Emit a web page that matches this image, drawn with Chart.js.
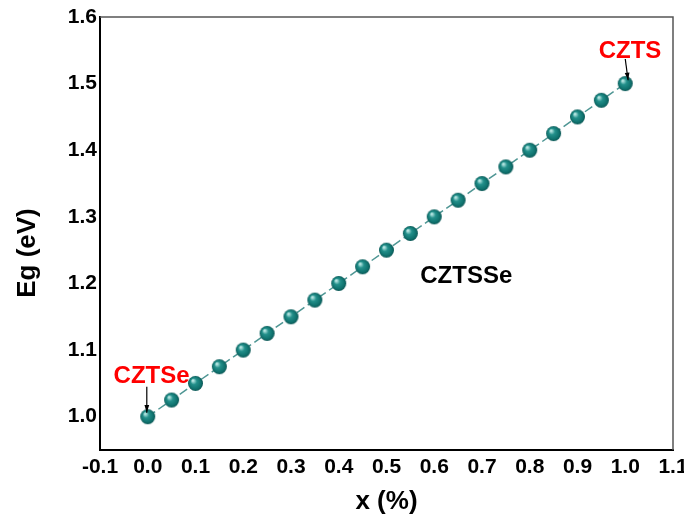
<!DOCTYPE html>
<html>
<head>
<meta charset="utf-8">
<script src="https://cdn.jsdelivr.net/npm/chart.js@4/dist/chart.umd.min.js"></script>
<style>
  html, body { margin: 0; padding: 0; background: #fff; }
  #wrap { width: 684px; height: 517px; }
</style>
</head>
<body>
<div id="wrap"><canvas id="egChart" width="684" height="517"></canvas></div>
<script>
// composition x and band gap values
const xValues = [0.00, 0.05, 0.10, 0.15, 0.20, 0.25, 0.30, 0.35, 0.40, 0.45, 0.50,
                 0.55, 0.60, 0.65, 0.70, 0.75, 0.80, 0.85, 0.90, 0.95, 1.00];
const egValues = [1.000, 1.025, 1.050, 1.075, 1.100, 1.125, 1.150, 1.175, 1.200, 1.225, 1.250,
                  1.275, 1.300, 1.325, 1.350, 1.375, 1.400, 1.425, 1.450, 1.475, 1.500];
const xTicks = [-0.1, 0.0, 0.1, 0.2, 0.3, 0.4, 0.5, 0.6, 0.7, 0.8, 0.9, 1.0, 1.1];
const yTicks = [1.0, 1.1, 1.2, 1.3, 1.4, 1.5, 1.6];

const FONT = '"Liberation Sans", Arial, sans-serif';

// labels and arrows in data coordinates
const notes = [
  { text: 'CZTSe', x: 0.008, y: 1.060, color: '#ff0000', size: 24 },
  { text: 'CZTS', x: 1.010, y: 1.549, color: '#ff0000', size: 24 },
  { text: 'CZTSSe', x: 0.667, y: 1.210, color: '#000000', size: 24 }
];
const arrows = [
  { from: [-0.002, 1.045], to: [-0.002, 1.006] },
  { from: [1.000, 1.537], to: [1.006, 1.505] }
];

function makeBall(r) {
  const c = document.createElement('canvas');
  c.width = c.height = r * 2 + 2;
  const g = c.getContext('2d');
  const cx = r + 1, cy = r + 1;
  const grad = g.createRadialGradient(cx - r * 0.35, cy - r * 0.4, r * 0.1, cx, cy, r);
  grad.addColorStop(0, '#b6e6e2');
  grad.addColorStop(0.35, '#23908b');
  grad.addColorStop(0.8, '#0f716d');
  grad.addColorStop(1, '#0a5553');
  g.fillStyle = grad;
  g.beginPath();
  g.arc(cx, cy, r, 0, Math.PI * 2);
  g.fill();
  return c;
}

const frame = {
  id: 'frame',
  afterDatasetsDraw(chart) {
    const { ctx, chartArea: a, scales: { x, y } } = chart;
    ctx.save();
    ctx.strokeStyle = '#555';
    ctx.lineWidth = 1.5;
    ctx.beginPath();
    ctx.moveTo(a.left, a.top);
    ctx.lineTo(a.right, a.top);
    ctx.lineTo(a.right, a.bottom);
    ctx.stroke();

    // arrows
    ctx.strokeStyle = '#000';
    ctx.fillStyle = '#000';
    ctx.lineWidth = 1.2;
    arrows.forEach(ar => {
      const x1 = x.getPixelForValue(ar.from[0]), y1 = y.getPixelForValue(ar.from[1]);
      const x2 = x.getPixelForValue(ar.to[0]), y2 = y.getPixelForValue(ar.to[1]);
      const ang = Math.atan2(y2 - y1, x2 - x1);
      ctx.beginPath();
      ctx.moveTo(x1, y1);
      ctx.lineTo(x2, y2);
      ctx.stroke();
      ctx.beginPath();
      ctx.moveTo(x2, y2);
      ctx.lineTo(x2 - 8 * Math.cos(ang - 0.3), y2 - 8 * Math.sin(ang - 0.3));
      ctx.lineTo(x2 - 8 * Math.cos(ang + 0.3), y2 - 8 * Math.sin(ang + 0.3));
      ctx.closePath();
      ctx.fill();
    });

    ctx.textAlign = 'center';
    ctx.textBaseline = 'middle';
    notes.forEach(n => {
      ctx.font = `bold ${n.size}px ${FONT}`;
      ctx.fillStyle = n.color;
      ctx.fillText(n.text, x.getPixelForValue(n.x), y.getPixelForValue(n.y));
    });

    // y axis title
    ctx.translate(28, 253);
    ctx.rotate(-Math.PI / 2);
    ctx.font = `bold 26px ${FONT}`;
    ctx.fillStyle = '#000';
    ctx.fillText('Eg (eV)', 0, 0);
    ctx.restore();
  }
};

new Chart(document.getElementById('egChart'), {
  type: 'line',
  data: {
    labels: xValues,
    datasets: [{
      data: xValues.map((v, i) => ({ x: v, y: egValues[i] })),
      borderColor: '#4f9694',
      borderWidth: 1.5,
      borderDash: [9, 4],
      pointStyle: makeBall(7.5),
      pointRadius: 7.5,
      pointHoverRadius: 7.5,
      fill: false,
      clip: false
    }]
  },
  options: {
    responsive: false,
    animation: false,
    events: [],
    layout: { padding: { top: 17, right: 11, left: 0, bottom: 0 } },
    plugins: { legend: { display: false }, tooltip: { enabled: false } },
    scales: {
      x: {
        type: 'linear',
        min: -0.1,
        max: 1.1,
        grid: { display: false, drawTicks: false },
        border: { color: '#000', width: 2 },
        afterBuildTicks: s => { s.ticks = xTicks.map(v => ({ value: v })); },
        afterFit: s => { s.height = 67; s.paddingLeft = 0; s.paddingRight = 0; },
        ticks: {
          color: '#000',
          padding: 5,
          font: { family: FONT, size: 21, weight: 'bold' },
          callback: v => v.toFixed(1)
        },
        title: {
          display: true,
          text: 'x (%)',
          color: '#000',
          padding: { top: 0, bottom: 0 },
          font: { family: FONT, size: 26, weight: 'bold' }
        }
      },
      y: {
        min: 0.95,
        max: 1.6,
        grid: { display: false, drawTicks: false },
        border: { color: '#000', width: 2 },
        afterBuildTicks: s => { s.ticks = yTicks.map(v => ({ value: v })); },
        afterFit: s => { s.width = 100; s.paddingTop = 0; s.paddingBottom = 0; },
        ticks: {
          color: '#000',
          padding: 3,
          font: { family: FONT, size: 21, weight: 'bold' },
          callback: v => v.toFixed(1)
        }
      }
    }
  },
  plugins: [frame]
});
</script>
</body>
</html>
